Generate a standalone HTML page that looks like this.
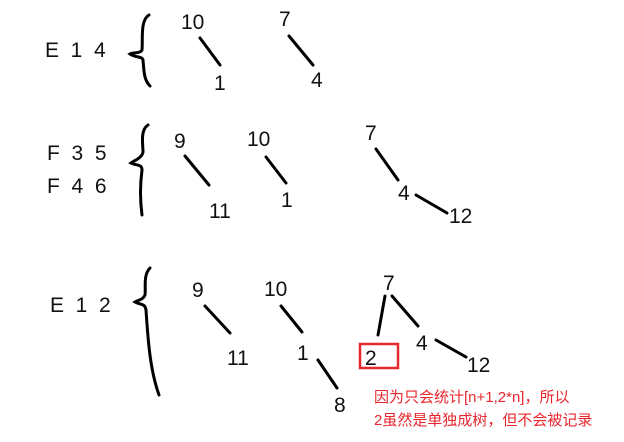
<!DOCTYPE html>
<html><head><meta charset="utf-8"><style>
html,body{margin:0;padding:0;background:#fff;}
svg{display:block;}
text{font-family:"Liberation Sans","Noto Sans CJK SC",sans-serif;fill:#111;font-size:21px;}
.l{stroke:#000;stroke-width:3;stroke-linecap:round;fill:none;}
.r{fill:#e8262e;font-size:15px;}
</style></head><body>
<svg width="624" height="442" viewBox="0 0 624 442">
<!-- row 1 -->
<g>
<text x="45" y="57" xml:space="preserve">E  1  4</text>
<path class="l" d="M149,15 C140,20 143,40 142,50 C140,54 133,52 130,54 C136,58 142,56 143,60 C144,72 144,80 150,86"/>
<text x="181" y="29">10</text>
<line class="l" x1="200" y1="38" x2="220" y2="65"/>
<text x="214" y="90">1</text>
<text x="279" y="26">7</text>
<line class="l" x1="289" y1="36" x2="313" y2="65"/>
<text x="311" y="87">4</text>
</g>
<!-- row 2 -->
<g>
<text x="47" y="160" xml:space="preserve">F  3  5</text>
<text x="47" y="193" xml:space="preserve">F  4  6</text>
<path class="l" d="M148,125 C140,130 143,145 143,152 C142,158 135,160 131,163 C137,166 142,164 142,170 C140,185 140,200 142,215"/>
<text x="174" y="148">9</text>
<line class="l" x1="185" y1="156" x2="209" y2="185"/>
<text x="209" y="218">11</text>
<text x="247" y="146">10</text>
<line class="l" x1="266" y1="157" x2="286" y2="183"/>
<text x="281" y="207">1</text>
<text x="365" y="140">7</text>
<line class="l" x1="376" y1="149" x2="398" y2="180"/>
<text x="398" y="200">4</text>
<line class="l" x1="416" y1="195" x2="447" y2="213"/>
<text x="449" y="223">12</text>
</g>
<!-- row 3 -->
<g>
<text x="50" y="312" xml:space="preserve">E  1  2</text>
<path class="l" d="M150,268 C143,275 146,288 145,295 C143,300 138,300 135,302 C140,305 145,303 146,310 C148,340 150,370 159,395"/>
<text x="192" y="297">9</text>
<line class="l" x1="205" y1="306" x2="230" y2="333"/>
<text x="227" y="365">11</text>
<text x="264" y="296">10</text>
<line class="l" x1="281" y1="306" x2="302" y2="332"/>
<text x="297" y="360">1</text>
<line class="l" x1="318" y1="360" x2="337" y2="388"/>
<text x="334" y="412">8</text>
<text x="383" y="290">7</text>
<line class="l" x1="385" y1="296" x2="378" y2="335"/>
<line class="l" x1="392" y1="296" x2="418" y2="326"/>
<text x="416" y="350">4</text>
<line class="l" x1="436" y1="340" x2="466" y2="357"/>
<text x="467" y="372">12</text>
<rect x="360" y="344" width="38" height="24" fill="none" stroke="#e8262e" stroke-width="2.5"/>
<text x="365" y="365">2</text>
<text class="r" x="374" y="402">因为只会统计[n+1,2*n]，所以</text>
<text class="r" x="374" y="425">2虽然是单独成树，但不会被记录</text>
</g>
</svg>
</body></html>
